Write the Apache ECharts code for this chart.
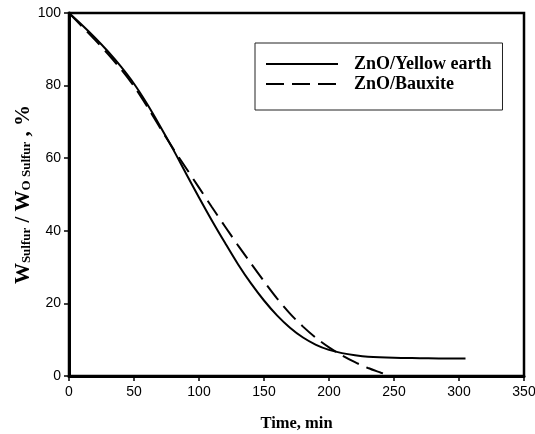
<!DOCTYPE html>
<html>
<head>
<meta charset="utf-8">
<script src="https://cdn.jsdelivr.net/npm/echarts@6/dist/echarts.min.js"></script>
<style>
html,body{margin:0;padding:0;background:#fff;}
#chart{width:535px;height:434px;}
</style>
</head>
<body>
<div id="chart"></div>
<script>
const seriesNames = ['ZnO/Yellow earth', 'ZnO/Bauxite'];
const timeYellow = [0, 10, 20, 30, 40, 50, 60, 70, 80, 90, 100, 110, 120, 130, 140, 150, 160, 170, 180, 190, 200, 210, 220, 230, 250, 270, 290, 305];
const valYellow  = [100, 96.7, 93.2, 89.4, 85.2, 80.5, 75, 68.9, 62.5, 55.8, 49.2, 42.8, 36.7, 30.8, 25.5, 20.8, 16.7, 13.3, 10.6, 8.6, 7.2, 6.3, 5.7, 5.3, 5.0, 4.9, 4.8, 4.8];
const timeBauxite = [0, 10, 20, 30, 40, 50, 60, 70, 80, 90, 100, 110, 120, 130, 140, 150, 160, 170, 180, 190, 200, 210, 220, 230, 240, 247];
const valBauxite  = [100, 96.3, 92.6, 88.7, 84.5, 79.8, 74.3, 68.4, 62.7, 57.3, 51.9, 46.5, 41.2, 36, 31, 26.1, 21.4, 17.2, 13.6, 10.5, 7.9, 5.7, 3.8, 2.2, 0.9, 0];
const xTicks = [0, 50, 100, 150, 200, 250, 300, 350];
const yTicks = [0, 20, 40, 60, 80, 100];

const zip = (xs, ys) => xs.map((x, i) => [x, ys[i]]);
const tickFont = '"Liberation Sans", Arial, sans-serif';
const serif = '"Liberation Serif", "Times New Roman", serif';

const chart = echarts.init(document.getElementById('chart'), null, {renderer: 'canvas'});
chart.setOption({
  animation: false,
  backgroundColor: '#fff',
  grid: {left: 69, right: 11, top: 13, bottom: 58, show: true, borderColor: '#000', borderWidth: 2.5, containLabel: false, outerBoundsMode: 'none'},
  legend: {
    orient: 'vertical',
    left: 255, top: 43,
    padding: [12, 11, 17, 10],
    itemGap: 2,
    itemWidth: 72, itemHeight: 14,
    borderColor: '#222', borderWidth: 1,
    itemStyle: {opacity: 0, borderWidth: 0},
    lineStyle: {width: 2},
    data: seriesNames,
    textStyle: {fontFamily: serif, fontWeight: 'bold', fontSize: 18, lineHeight: 16, color: '#000', padding: [0, 0, 0, 11]}
  },
  xAxis: {
    type: 'value', min: xTicks[0], max: xTicks[xTicks.length - 1], interval: 50,
    name: 'Time, min', nameLocation: 'middle', nameGap: 39, nameMoveOverlap: false,
    nameTextStyle: {fontFamily: serif, fontWeight: 'bold', fontSize: 16.5, color: '#000'},
    axisLine: {lineStyle: {color: '#000', width: 3}},
    axisTick: {show: true, length: 5, lineStyle: {color: '#000', width: 1.5}},
    axisLabel: {fontFamily: tickFont, fontSize: 14, color: '#000', margin: 9},
    splitLine: {show: false}
  },
  yAxis: {
    type: 'value', min: yTicks[0], max: yTicks[yTicks.length - 1], interval: 20,
    name: '{w|W}{s|Sulfur}{w| / W}{s|O Sulfur}{w| , %}',
    nameLocation: 'middle', nameGap: 36, nameRotate: 90, nameMoveOverlap: false,
    nameTextStyle: {
      fontFamily: serif, fontWeight: 'bold', color: '#000',
      rich: {
        w: {fontFamily: serif, fontWeight: 'bold', fontSize: 21, lineHeight: 20, padding: [0, 0, 4, 0], verticalAlign: 'top', color: '#000'},
        s: {fontFamily: serif, fontWeight: 'bold', fontSize: 13, lineHeight: 13, verticalAlign: 'bottom', color: '#000'}
      }
    },
    axisLine: {lineStyle: {color: '#000', width: 3}},
    axisTick: {show: true, length: 5, lineStyle: {color: '#000', width: 1.5}},
    axisLabel: {fontFamily: tickFont, fontSize: 14, color: '#000', margin: 8},
    splitLine: {show: false}
  },
  series: [
    {
      name: seriesNames[0], type: 'line', smooth: 0.3, symbol: 'none',
      data: zip(timeYellow, valYellow),
      lineStyle: {color: '#000', width: 2, type: 'solid'},
      itemStyle: {color: '#000'}
    },
    {
      name: seriesNames[1], type: 'line', smooth: 0.3, symbol: 'none',
      data: zip(timeBauxite, valBauxite),
      lineStyle: {color: '#000', width: 2, type: [18, 8]},
      itemStyle: {color: '#000'}
    }
  ]
});
</script>
</body>
</html>
